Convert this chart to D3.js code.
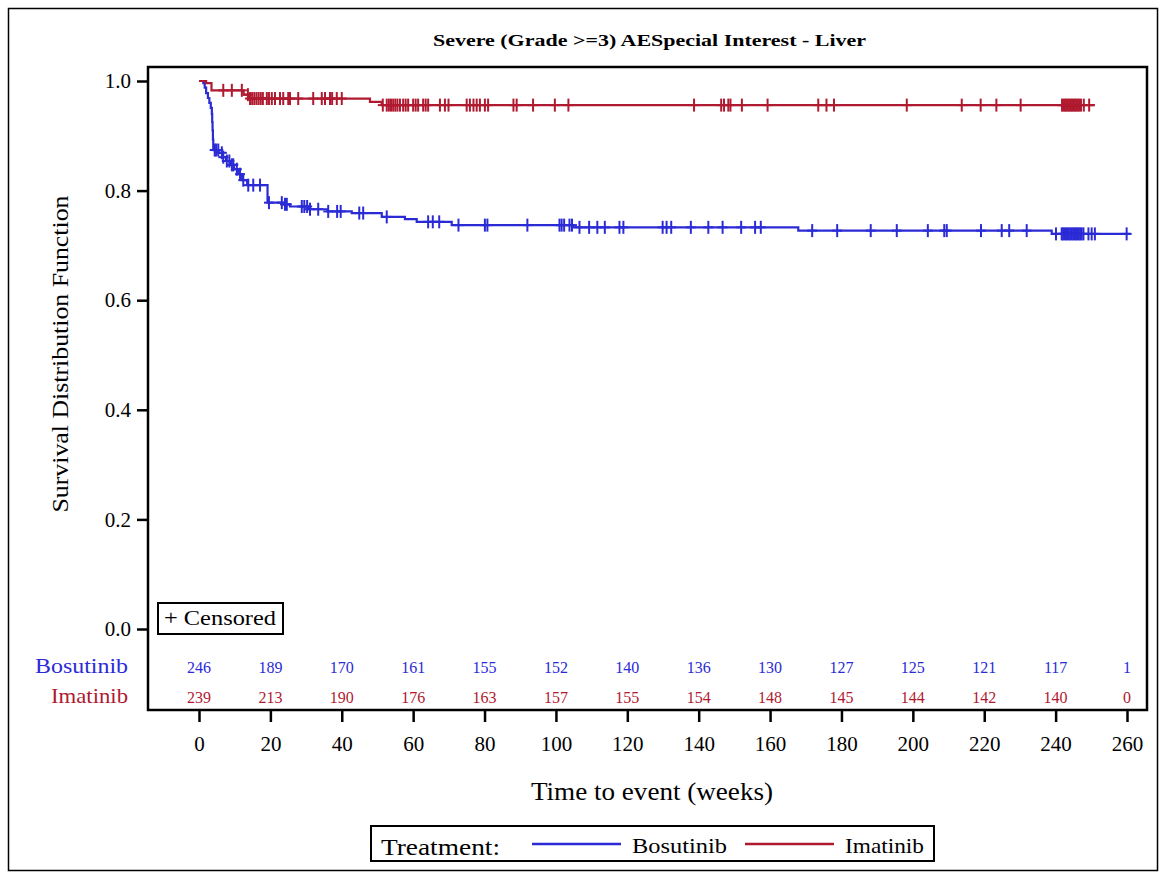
<!DOCTYPE html>
<html>
<head>
<meta charset="utf-8">
<script src="https://cdn.jsdelivr.net/npm/d3@7"></script>
<style>
  body { margin: 0; background: #fff; }
  text { font-family: 'Liberation Serif', 'Times New Roman', serif; }
</style>
</head>
<body>
<svg id="svg_km" width="1165" height="877"></svg>
<script>
const timeTicks = [0, 20, 40, 60, 80, 100, 120, 140, 160, 180, 200, 220, 240, 260];
const survTicks = [0, 0.2, 0.4, 0.6, 0.8, 1.0];
const bosAtRisk = [246, 189, 170, 161, 155, 152, 140, 136, 130, 127, 125, 121, 117, 1];
const imaAtRisk = [239, 213, 190, 176, 163, 157, 155, 154, 148, 145, 144, 142, 140, 0];

// Kaplan-Meier step points (weeks, survival), last entry is end of follow-up
const bosTimes = [0, 1.2, 1.6, 2.0, 2.5, 2.9, 3.3, 3.6, 3.7, 3.8, 3.9, 4.0, 4.3, 5.5, 6.5, 7.6, 8.7, 9.8, 11.0, 12.0, 13.5, 19.2, 23.7, 25.5, 30.6, 36.0, 42.8, 51.2, 57.7, 61.0, 70.8, 104.9, 167.9, 238.9, 261];
const bosSurv = [1.0, 0.996, 0.988, 0.978, 0.969, 0.960, 0.951, 0.940, 0.925, 0.910, 0.893, 0.878, 0.874, 0.869, 0.861, 0.854, 0.847, 0.839, 0.830, 0.819, 0.810, 0.778, 0.775, 0.771, 0.766, 0.762, 0.759, 0.752, 0.748, 0.743, 0.737, 0.733, 0.727, 0.721, 0.721];
const imaTimes = [0, 2.0, 3.5, 12.5, 14.0, 47.9, 51.2, 251];
const imaSurv = [1.0, 0.996, 0.983, 0.975, 0.968, 0.962, 0.956, 0.956];

const bosCensored = [4.4, 4.8, 5.4, 6.4, 6.8, 7.8, 8.5, 9.2, 9.6, 10.6, 11.5, 12.4, 13.8, 15.2, 17.1, 19.6, 23.2, 24.1, 24.6, 28.8, 29.5, 30.3, 31.1, 33.4, 36.2, 38.7, 39.7, 44.9, 46.0, 52.6, 64.2, 65.5, 67.3, 72.7, 80.1, 80.8, 92.0, 101.0, 101.6, 102.3, 103.8, 104.5, 106.6, 109.3, 111.6, 113.7, 117.8, 118.9, 129.9, 131.0, 132.3, 137.8, 142.7, 146.7, 151.9, 155.8, 157.4, 171.8, 178.8, 188.2, 195.5, 204.2, 208.8, 209.5, 219.1, 224.9, 227.0, 231.9, 240.1, 241.7, 242.1, 242.5, 242.9, 243.3, 243.7, 244.1, 244.5, 244.9, 245.3, 245.7, 246.1, 246.5, 246.9, 247.3, 247.8, 249.2, 250.1, 251.0, 259.9];
const imaCensored = [6.8, 9.2, 12.0, 13.7, 14.3, 14.9, 15.5, 16.1, 16.7, 17.3, 17.9, 19.0, 19.6, 20.4, 21.3, 22.7, 23.6, 25.0, 25.5, 27.8, 32.0, 34.4, 35.3, 36.7, 37.3, 38.6, 40.0, 51.5, 52.6, 53.2, 53.8, 54.4, 55.0, 55.6, 56.3, 57.2, 57.9, 58.6, 60.0, 60.7, 61.4, 62.8, 63.5, 64.2, 67.5, 68.9, 69.9, 75.0, 75.9, 76.9, 77.8, 78.7, 80.1, 81.0, 88.1, 89.0, 93.6, 99.7, 103.5, 138.7, 146.3, 147.1, 148.3, 148.9, 152.1, 159.3, 173.5, 175.8, 177.9, 198.3, 213.7, 219.0, 223.4, 230.2, 241.8, 242.2, 242.6, 243.0, 243.4, 243.8, 244.2, 244.6, 245.0, 245.4, 245.8, 246.2, 246.6, 247.1, 247.9, 249.4];

const blue = '#2b2bd6';
const red = '#b01a30';

const svg = d3.select('#svg_km');

const frame = { left: 148, top: 67, right: 1147, bottom: 710 };

const xscale = d3.scaleLinear()
  .domain([0, 260])
  .range([199, 1127]);

const yscale = d3.scaleLinear()
  .domain([0, 1])
  .range([629, 81]);

// outer border
svg.append('rect')
  .attr('x', 8.5).attr('y', 8.5)
  .attr('width', 1149).attr('height', 862)
  .attr('fill', 'none')
  .attr('stroke', '#000')
  .attr('stroke-width', 1.5);

svg.append('text')
  .text('Severe (Grade >=3) AESpecial Interest - Liver')
  .attr('x', 433)
  .attr('y', 46)
  .attr('textLength', 433)
  .attr('lengthAdjust', 'spacingAndGlyphs')
  .style('font-size', '17px')
  .style('font-weight', 'bold');

// plot frame
svg.append('rect')
  .attr('x', frame.left).attr('y', frame.top)
  .attr('width', frame.right - frame.left)
  .attr('height', frame.bottom - frame.top)
  .attr('fill', 'none')
  .attr('stroke', '#000')
  .attr('stroke-width', 2.5);

const leftAxis = d3.axisLeft(yscale)
  .tickValues(survTicks)
  .tickSize(11)
  .tickPadding(6)
  .tickFormat(d3.format('.1f'));

const yAxisG = svg.append('g')
  .attr('transform', `translate(${frame.left}, 0)`)
  .call(leftAxis);
yAxisG.select('.domain').remove();
yAxisG.selectAll('line').attr('stroke-width', 2.5);
yAxisG.selectAll('text')
  .style('font-size', '21px')
  .style('font-family', 'Liberation Serif')
  .attr('fill', '#000');

const bottomAxis = d3.axisBottom(xscale)
  .tickValues(timeTicks)
  .tickSize(12)
  .tickPadding(14)
  .tickFormat(d3.format('d'));

const xAxisG = svg.append('g')
  .attr('transform', `translate(0, ${frame.bottom})`)
  .call(bottomAxis);
xAxisG.select('.domain').remove();
xAxisG.selectAll('line').attr('stroke-width', 2.5);
xAxisG.selectAll('text')
  .style('font-size', '21px')
  .style('font-family', 'Liberation Serif')
  .attr('fill', '#000');

svg.append('text')
  .text('Survival Distribution Function')
  .attr('transform', `translate(68, 354) rotate(-90)`)
  .attr('text-anchor', 'middle')
  .attr('textLength', 317)
  .attr('lengthAdjust', 'spacingAndGlyphs')
  .style('font-size', '24px');

svg.append('text')
  .text('Time to event (weeks)')
  .attr('x', 652)
  .attr('y', 800)
  .attr('text-anchor', 'middle')
  .attr('textLength', 242)
  .attr('lengthAdjust', 'spacingAndGlyphs')
  .style('font-size', '25px');

// survival curves
const line = d3.line()
  .x((d) => xscale(d[0]))
  .y((d) => yscale(d[1]))
  .curve(d3.curveStepAfter);

const groups = [
  { name: 'Bosutinib', times: bosTimes, surv: bosSurv, censored: bosCensored, color: blue, atRisk: bosAtRisk, labelW: 93 },
  { name: 'Imatinib', times: imaTimes, surv: imaSurv, censored: imaCensored, color: red, atRisk: imaAtRisk, labelW: 77 },
];

function survAt(g, t) {
  const i = d3.bisectRight(g.times, t) - 1;
  return g.surv[Math.max(0, i)];
}

groups.forEach((g) => {
  svg.append('path')
    .datum(g.times.map((t, i) => [t, g.surv[i]]))
    .attr('d', line)
    .attr('fill', 'none')
    .attr('stroke', g.color)
    .attr('stroke-width', 2.2);

  const marks = svg.append('g')
    .selectAll('g')
    .data(g.censored)
    .enter()
    .append('g')
    .attr('transform', (d) => `translate(${xscale(d)}, ${yscale(survAt(g, d))})`)
    .attr('stroke', g.color)
    .attr('stroke-width', 2);

  marks.append('line').attr('x1', 0).attr('x2', 0).attr('y1', -6.5).attr('y2', 6.5);
  marks.append('line').attr('x1', -5).attr('x2', 5).attr('y1', 0).attr('y2', 0);
});

// censored inset
svg.append('rect')
  .attr('x', 158).attr('y', 603)
  .attr('width', 125).attr('height', 31)
  .attr('fill', '#fff')
  .attr('stroke', '#000')
  .attr('stroke-width', 2);

svg.append('text')
  .text('+ Censored')
  .attr('x', 164)
  .attr('y', 625)
  .attr('textLength', 112)
  .attr('lengthAdjust', 'spacingAndGlyphs')
  .style('font-size', '21px');

// number at risk rows
const riskRows = [673, 703];
groups.forEach((g, gi) => {
  svg.append('text')
    .text(g.name)
    .attr('x', 128 - g.labelW)
    .attr('y', riskRows[gi])
    .attr('textLength', g.labelW)
    .attr('lengthAdjust', 'spacingAndGlyphs')
    .attr('fill', g.color)
    .style('font-size', '22px');

  svg.append('g')
    .selectAll('text')
    .data(g.atRisk)
    .enter()
    .append('text')
    .text((d) => d)
    .attr('x', (d, i) => xscale(timeTicks[i]))
    .attr('y', riskRows[gi])
    .attr('text-anchor', 'middle')
    .attr('fill', g.color)
    .style('font-size', '16px');
});

// legend
const legend = svg.append('g');

legend.append('rect')
  .attr('x', 371).attr('y', 826)
  .attr('width', 563).attr('height', 35)
  .attr('fill', '#fff')
  .attr('stroke', '#000')
  .attr('stroke-width', 2);

legend.append('text')
  .text('Treatment:')
  .attr('x', 381)
  .attr('y', 855)
  .attr('textLength', 119)
  .attr('lengthAdjust', 'spacingAndGlyphs')
  .style('font-size', '24px');

const legendItems = [
  { name: 'Bosutinib', color: blue, x: 532, w: 95 },
  { name: 'Imatinib', color: red, x: 745, w: 79 },
];

legend.selectAll('line')
  .data(legendItems)
  .enter()
  .append('line')
  .attr('x1', (d) => d.x)
  .attr('x2', (d) => d.x + 89)
  .attr('y1', 844)
  .attr('y2', 844)
  .attr('stroke', (d) => d.color)
  .attr('stroke-width', 2.5);

legend.selectAll('text.item')
  .data(legendItems)
  .enter()
  .append('text')
  .attr('class', 'item')
  .text((d) => d.name)
  .attr('x', (d) => d.x + 100)
  .attr('y', 853)
  .attr('textLength', (d) => d.w)
  .attr('lengthAdjust', 'spacingAndGlyphs')
  .style('font-size', '22px');
</script>
</body>
</html>
